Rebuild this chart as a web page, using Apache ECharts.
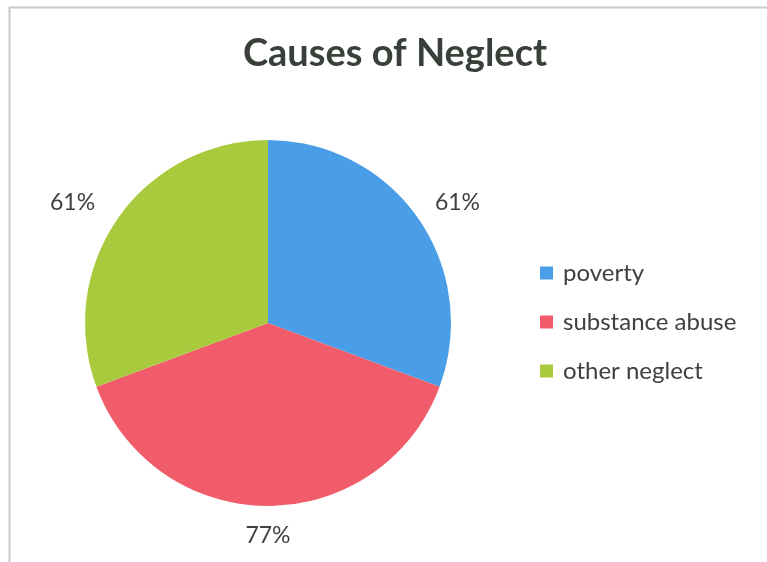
<!DOCTYPE html>
<html>
<head>
<meta charset="utf-8">
<script src="https://cdn.jsdelivr.net/npm/echarts@6/dist/echarts.min.js"></script>
<style>
  html, body { margin: 0; padding: 0; background: #ffffff; }
  #chart { width: 767px; height: 562px; }
</style>
</head>
<body>
<div id="chart"></div>
<script>
// Causes of neglect, shares per category (percent)
const categories = ['poverty', 'substance abuse', 'other neglect'];
const values = [61, 77, 61];
const valueLabels = ['61%', '77%', '61%'];

const colors = ['#4a9ee8', '#f05c69', '#a9ca3d'];
// small nudges so each value label sits where the slice's outer corner leaves room
const labelNudge = [[13, 2], [0, -2], [-19, 2]];

const FONT = 'Lato, "Open Sans", sans-serif';

const pieData = categories.map((name, i) => ({
  name: name,
  value: values[i],
  itemStyle: { color: colors[i] }
}));

const labelData = categories.map((name, i) => ({
  name: name,
  value: values[i],
  label: { formatter: valueLabels[i], offset: labelNudge[i] }
}));

const chart = echarts.init(document.getElementById('chart'), null, { renderer: 'canvas' });

chart.setOption({
  backgroundColor: '#ffffff',
  animation: false,
  title: {
    text: 'Causes of Neglect',
    left: 390,
    textAlign: 'center',
    top: 30,
    textStyle: {
      fontFamily: FONT,
      fontWeight: 'bold',
      fontSize: 38,
      color: '#394039'
    }
  },
  legend: {
    orient: 'vertical',
    left: 540,
    top: 261,
    padding: 0,
    data: categories,
    icon: 'rect',
    itemWidth: 13,
    itemHeight: 13,
    itemGap: 25,
    textStyle: {
      fontFamily: FONT,
      fontSize: 24,
      color: '#404040',
      lineHeight: 24,
      padding: [0, 0, 0, 5]
    }
  },
  graphic: [{
    type: 'rect',
    left: 7,
    top: 5,
    shape: { width: 820, height: 620 },
    style: { fill: 'none', stroke: '#c9c9c9', lineWidth: 2 },
    silent: true
  }],
  series: [
    {
      type: 'pie',
      center: [268, 323],
      radius: [0, 183],
      startAngle: 90,
      clockwise: true,
      data: pieData,
      label: { show: false },
      labelLine: { show: false },
      itemStyle: { borderWidth: 0 },
      emphasis: { disabled: true }
    },
    {
      // transparent ring carrying the value labels just outside the pie
      type: 'pie',
      center: [268, 323],
      radius: [183, 241],
      startAngle: 90,
      clockwise: true,
      data: labelData,
      silent: true,
      itemStyle: { color: 'rgba(0,0,0,0)' },
      label: {
        show: true,
        position: 'inside',
        fontFamily: FONT,
        fontSize: 23,
        color: '#404040'
      },
      labelLine: { show: false },
      emphasis: { disabled: true }
    }
  ]
});
</script>
</body>
</html>
